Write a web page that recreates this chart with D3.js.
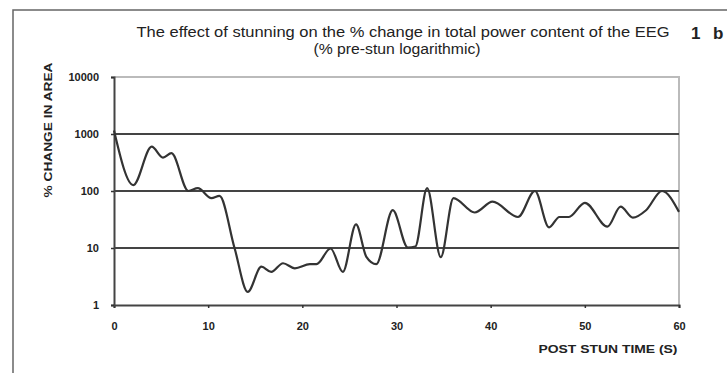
<!DOCTYPE html>
<html>
<head>
<meta charset="utf-8">
<script src="https://cdn.jsdelivr.net/npm/d3@7"></script>
<style>
  body { margin: 0; background: #fff; }
  text { font-family: "Liberation Sans", Arial, sans-serif; fill: #222; }
</style>
</head>
<body>
<svg id="chart" width="727" height="373"></svg>
<script>
// post stun time (s) and % change in area
var times = [0, 2.05, 4.0, 5.2, 6.1, 7.9, 8.9, 10.35, 11.2, 12.8, 14.2, 15.65, 16.7, 17.95, 19.2, 20.8, 21.5, 23.0, 24.3, 25.7, 26.8, 27.85, 29.6, 31.2, 32.0, 33.25, 34.7, 36.05, 38.3, 40.2, 42.9, 44.7, 46.2, 47.3, 48.3, 50.0, 52.4, 53.8, 55.1, 56.5, 58.2, 60];
var values = [1150, 127, 600, 385, 460, 100, 112, 75, 82, 10, 1.7, 4.7, 3.8, 5.4, 4.4, 5.2, 5.2, 9.8, 3.8, 26, 7, 5.2, 46, 10.2, 10.6, 112, 6.9, 75, 42, 65, 35, 100, 23, 35, 35, 62, 23.7, 53, 34, 46, 100, 43];

var xTicks = [0, 10, 20, 30, 40, 50, 60];
var yTicks = [1, 10, 100, 1000, 10000];

var svg = d3.select("#chart");

// outer frame
svg.append("path")
    .attr("d", "M13,373 L13,10 L727,10")
    .attr("fill", "none")
    .attr("stroke", "#666")
    .attr("stroke-width", 1.5);

var x = d3.scaleLinear().domain([0, 60]).range([114, 679]);
var y = d3.scaleLog().domain([1, 10000]).range([305, 77]);

// top / right border of plot
svg.append("path")
    .attr("d", "M" + x(0) + "," + y(10000) + " L" + x(60) + "," + y(10000) + " L" + x(60) + "," + y(1))
    .attr("fill", "none")
    .attr("stroke", "#bbb")
    .attr("stroke-width", 2);

// gridlines
svg.append("g")
    .selectAll("line")
    .data([10, 100, 1000])
    .enter()
    .append("line")
    .attr("x1", x(0))
    .attr("x2", x(60))
    .attr("y1", d => y(d))
    .attr("y2", d => y(d))
    .attr("stroke", "#444")
    .attr("stroke-width", 2);

// x axis
var xAxis = svg.append("g")
    .attr("transform", "translate(0," + y(1) + ")")
    .call(d3.axisBottom(x).tickValues(xTicks).tickSize(3).tickPadding(14).tickFormat(d3.format("d")));
xAxis.select(".domain").attr("stroke", "#444").attr("stroke-width", 2);
xAxis.selectAll(".tick line").attr("stroke", "#333").attr("stroke-width", 1.5);
xAxis.selectAll("text")
    .style("font-size", "11px")
    .style("font-weight", "bold")
    .attr("fill", "#222");

// y axis
var yAxis = svg.append("g")
    .attr("transform", "translate(" + x(0) + ",0)")
    .call(d3.axisLeft(y).tickValues(yTicks).tickSize(3).tickPadding(12).tickFormat(d3.format("d")));
yAxis.select(".domain").attr("stroke", "#444").attr("stroke-width", 2);
yAxis.selectAll(".tick line").attr("stroke", "#333").attr("stroke-width", 1.5);
yAxis.selectAll("text")
    .style("font-size", "11px")
    .style("font-weight", "bold")
    .attr("fill", "#222");

// the curve
var line = d3.line()
    .x((d, i) => x(times[i]))
    .y(d => y(d))
    .curve(d3.curveMonotoneX);

svg.append("path")
    .datum(values)
    .attr("d", line)
    .attr("fill", "none")
    .attr("stroke", "#333")
    .attr("stroke-width", 2.2);

// titles
svg.append("text")
    .attr("x", 403)
    .attr("y", 37)
    .attr("text-anchor", "middle")
    .attr("textLength", 533)
    .attr("lengthAdjust", "spacingAndGlyphs")
    .style("font-size", "14px")
    .text("The effect of stunning on the % change in total power content of the EEG");

svg.append("text")
    .attr("x", 397)
    .attr("y", 54)
    .attr("text-anchor", "middle")
    .attr("textLength", 167)
    .attr("lengthAdjust", "spacingAndGlyphs")
    .style("font-size", "14px")
    .text("(% pre-stun logarithmic)");

svg.append("text")
    .attr("x", 691)
    .attr("y", 39)
    .style("font-size", "17px")
    .style("font-weight", "bold")
    .attr("fill", "#111")
    .text("1");

svg.append("text")
    .attr("x", 713)
    .attr("y", 39)
    .style("font-size", "17px")
    .style("font-weight", "bold")
    .attr("fill", "#111")
    .text("b");

svg.append("text")
    .attr("transform", "translate(52,130) rotate(-90)")
    .attr("text-anchor", "middle")
    .attr("textLength", 135)
    .attr("lengthAdjust", "spacingAndGlyphs")
    .style("font-size", "11px")
    .style("font-weight", "bold")
    .text("% CHANGE IN AREA");

svg.append("text")
    .attr("x", 608)
    .attr("y", 353)
    .attr("text-anchor", "middle")
    .attr("textLength", 139)
    .attr("lengthAdjust", "spacingAndGlyphs")
    .style("font-size", "11px")
    .style("font-weight", "bold")
    .text("POST STUN TIME (S)");
</script>
</body>
</html>
